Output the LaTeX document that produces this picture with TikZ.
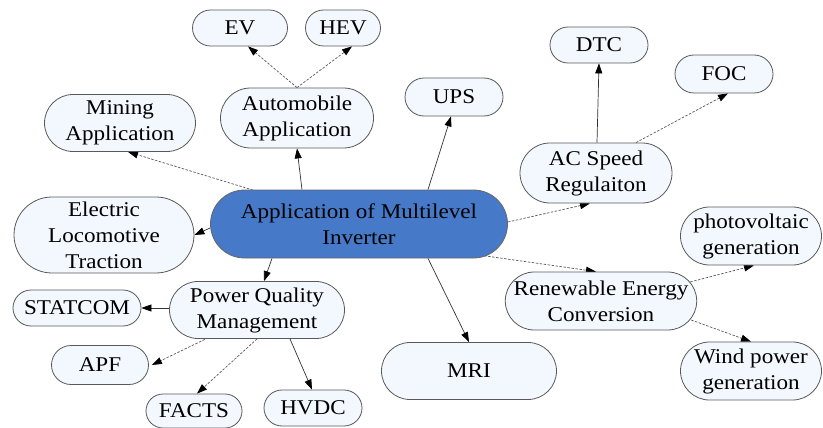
\documentclass[tikz,border=0pt]{standalone}
\usepackage{fontspec}
\setmainfont[FakeStretch=1.1]{Liberation Serif}
\usetikzlibrary{shapes.misc,arrows.meta,calc,backgrounds}

\definecolor{leaffill}{RGB}{243,248,254}
\definecolor{hubfill}{RGB}{70,121,200}
\definecolor{edgegray}{RGB}{50,50,50}

\tikzset{
  leaf/.style={rounded rectangle, draw=black!65, line width=0.8pt, fill=leaffill,
    align=center, inner sep=0pt, font=\fontsize{21}{26}\selectfont},
  hub/.style={leaf, fill=hubfill, draw=black!60},
  link/.style={draw=edgegray, line width=0.7pt, -{Triangle[length=10pt,width=7pt,color=black]}},
  dlink/.style={link, draw=black!65, dash pattern=on 2.5pt off 1.5pt},
}

\begin{document}
\begin{tikzpicture}[x=1pt,y=-1pt]
\useasboundingbox (0,0) rectangle (823,428);

% central topic
\node[hub, minimum width=297pt, minimum height=68pt] (main) at (359,224)
  {Application of Multilevel\\Inverter};

% first-level applications
\node[leaf, minimum width=153pt, minimum height=60pt] (auto) at (297,118) {Automobile\\Application};
\node[leaf, minimum width=151pt, minimum height=57pt] (mining) at (120,123) {Mining\\Application};
\node[leaf, minimum width=98pt, minimum height=38pt] (ups) at (454,97) {UPS};
\node[leaf, minimum width=152pt, minimum height=60pt] (acspeed) at (596,173) {AC Speed\\Regulaiton};
\node[leaf, minimum width=180pt, minimum height=76pt] (loco) at (104,235) {Electric\\Locomotive\\Traction};
\node[leaf, minimum width=185pt, minimum height=58pt] (renew) at (601,301) {Renewable Energy\\Conversion};
\node[leaf, minimum width=175pt, minimum height=57pt] (pqm) at (257,310) {Power Quality\\Management};
\node[leaf, minimum width=175pt, minimum height=57pt] (mri) at (469,371) {MRI};

% second-level items
\node[leaf, minimum width=95pt, minimum height=36pt] (ev) at (240,28) {EV};
\node[leaf, minimum width=75pt, minimum height=36pt] (hev) at (343,28) {HEV};
\node[leaf, minimum width=98pt, minimum height=36pt] (dtc) at (599,45) {DTC};
\node[leaf, minimum width=98pt, minimum height=38pt] (foc) at (724,74) {FOC};
\node[leaf, minimum width=141pt, minimum height=58pt] (pv) at (751,236) {photovoltaic\\generation};
\node[leaf, minimum width=141pt, minimum height=58pt] (wind) at (751,371) {Wind power\\generation};
\node[leaf, minimum width=128pt, minimum height=36pt] (statcom) at (77,308) {STATCOM};
\node[leaf, minimum width=97pt, minimum height=39pt] (apf) at (100,365) {APF};
\node[leaf, minimum width=96pt, minimum height=34pt] (facts) at (194,411) {FACTS};
\node[leaf, minimum width=98pt, minimum height=36pt] (hvdc) at (313,408) {HVDC};

% connectors
\begin{scope}[on background layer]
\draw[dlink] (auto.north) -- ($(ev.south)+(8,0)$);
\draw[dlink] (auto.north) -- ($(hev.south)+(9,0)$);
\draw[link] ($(main.north)+(-57,0)$) -- (auto.south);
\draw[dlink] ($(main.north west)+(20,4)$) -- ($(mining.south)+(8,0)$);
\draw[link] ($(main.north)+(69,0)$) -- ($(ups.south)+(-3,0)$);
\draw[dlink] ($(main.east)+(0,-2)$) -- ($(acspeed.south)+(-6,0)$);
\draw[link] ($(acspeed.north)+(1,0)$) -- (dtc.south);
\draw[dlink] ($(acspeed.north)+(40,0)$) -- ($(foc.south)+(4,0)$);
\draw[link] ($(main.west)+(0,4)$) -- (loco.east);
\draw[dlink] ($(main.south east)+(-13,-6)$) -- ($(renew.north)+(-5,0)$);
\draw[dlink] ($(renew.east)+(-7,-19)$) -- ($(pv.south)+(3,0)$);
\draw[dlink] ($(renew.east)+(-6,19)$) -- (wind.north);
\draw[link] ($(main.south)+(69,0)$) -- (mri.north);
\draw[link] ($(main.south)+(-87,0)$) -- ($(pqm.north)+(7,0)$);
\draw[link] ($(pqm.west)+(0,-2)$) -- (statcom.east);
\draw[dlink] ($(pqm.south west)+(14,-3)$) -- ($(apf.east)+(3,0)$);
\draw[dlink] (pqm.south) -- ($(facts.north)+(3,0)$);
\draw[link] ($(pqm.south)+(33,0)$) -- ($(hvdc.north)+(-1,0)$);
\end{scope}
\end{tikzpicture}
\end{document}
